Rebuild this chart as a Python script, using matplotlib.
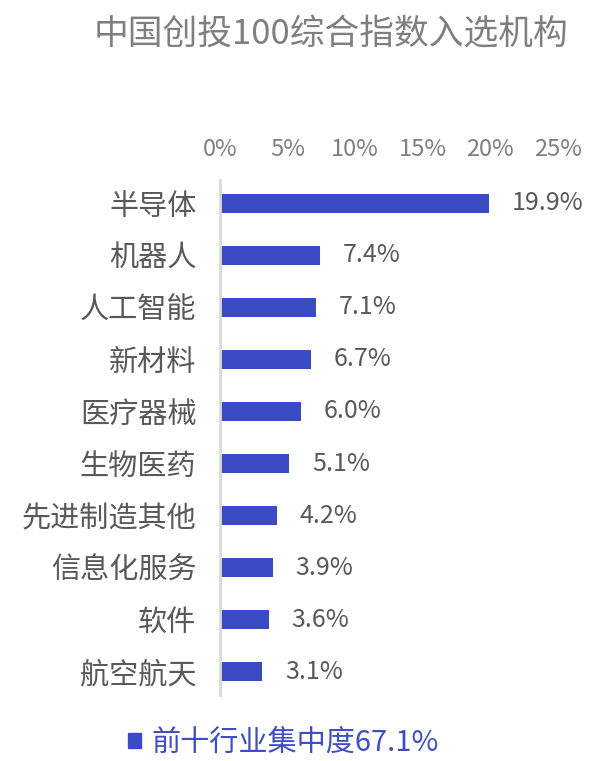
import matplotlib
matplotlib.use("Agg")
import matplotlib.pyplot as plt
from matplotlib.patches import Patch

plt.rcParams['font.family'] = ['Noto Sans CJK SC', 'DejaVu Sans']

title = "中国创投100综合指数入选机构"
categories = ["半导体", "机器人", "人工智能", "新材料", "医疗器械", "生物医药",
              "先进制造其他", "信息化服务", "软件", "航空航天"]
values = [19.9, 7.4, 7.1, 6.7, 6.0, 5.1, 4.2, 3.9, 3.6, 3.1]
xticks = [0, 5, 10, 15, 20, 25]
xtick_labels = ["0%", "5%", "10%", "15%", "20%", "25%"]
legend_label = "前十行业集中度67.1%"

bar_color = "#3A4BC4"
gray = "#595959"

fig = plt.figure(figsize=(6.07, 7.61), dpi=100)
ax = fig.add_axes([220/607, 1-695/761, (558-220)/607, (695-180)/761])

y = list(range(len(categories)))
ax.barh(y, values, height=0.38, color=bar_color)
ax.set_ylim(len(categories)-0.55, -0.45)
ax.set_xlim(0, 25)

for yi, v in zip(y, values):
    ax.annotate(f"{v:.1f}%", (v, yi), xytext=(23, 0), textcoords="offset pixels",
                va="center", ha="left", fontsize=18, color=gray)

ax.set_yticks(y)
ax.set_yticklabels(categories, fontsize=21, color=gray)
ax.tick_params(axis='y', length=0, pad=17)

ax.xaxis.tick_top()
ax.set_xticks(xticks)
ax.set_xticklabels(xtick_labels, fontsize=17, color="#7f7f7f")
ax.tick_params(axis='x', length=0, pad=14)

for s in ["top", "right", "bottom"]:
    ax.spines[s].set_visible(False)
ax.spines["left"].set_color("#d9d9d9")
ax.spines["left"].set_linewidth(2)

fig.text(331/607, 1-35/761, title, ha="center", va="center", fontsize=25, color="#7f7f7f")

leg = fig.legend(handles=[Patch(color=bar_color, label=legend_label)],
                 loc="center", bbox_to_anchor=(283/607, 1-743/761), frameon=False,
                 handlelength=0.45, handleheight=0.45, handletextpad=0.35, fontsize=21)
for t in leg.get_texts():
    t.set_color("#3F4FBF")

fig.savefig("out.png", dpi=100)
